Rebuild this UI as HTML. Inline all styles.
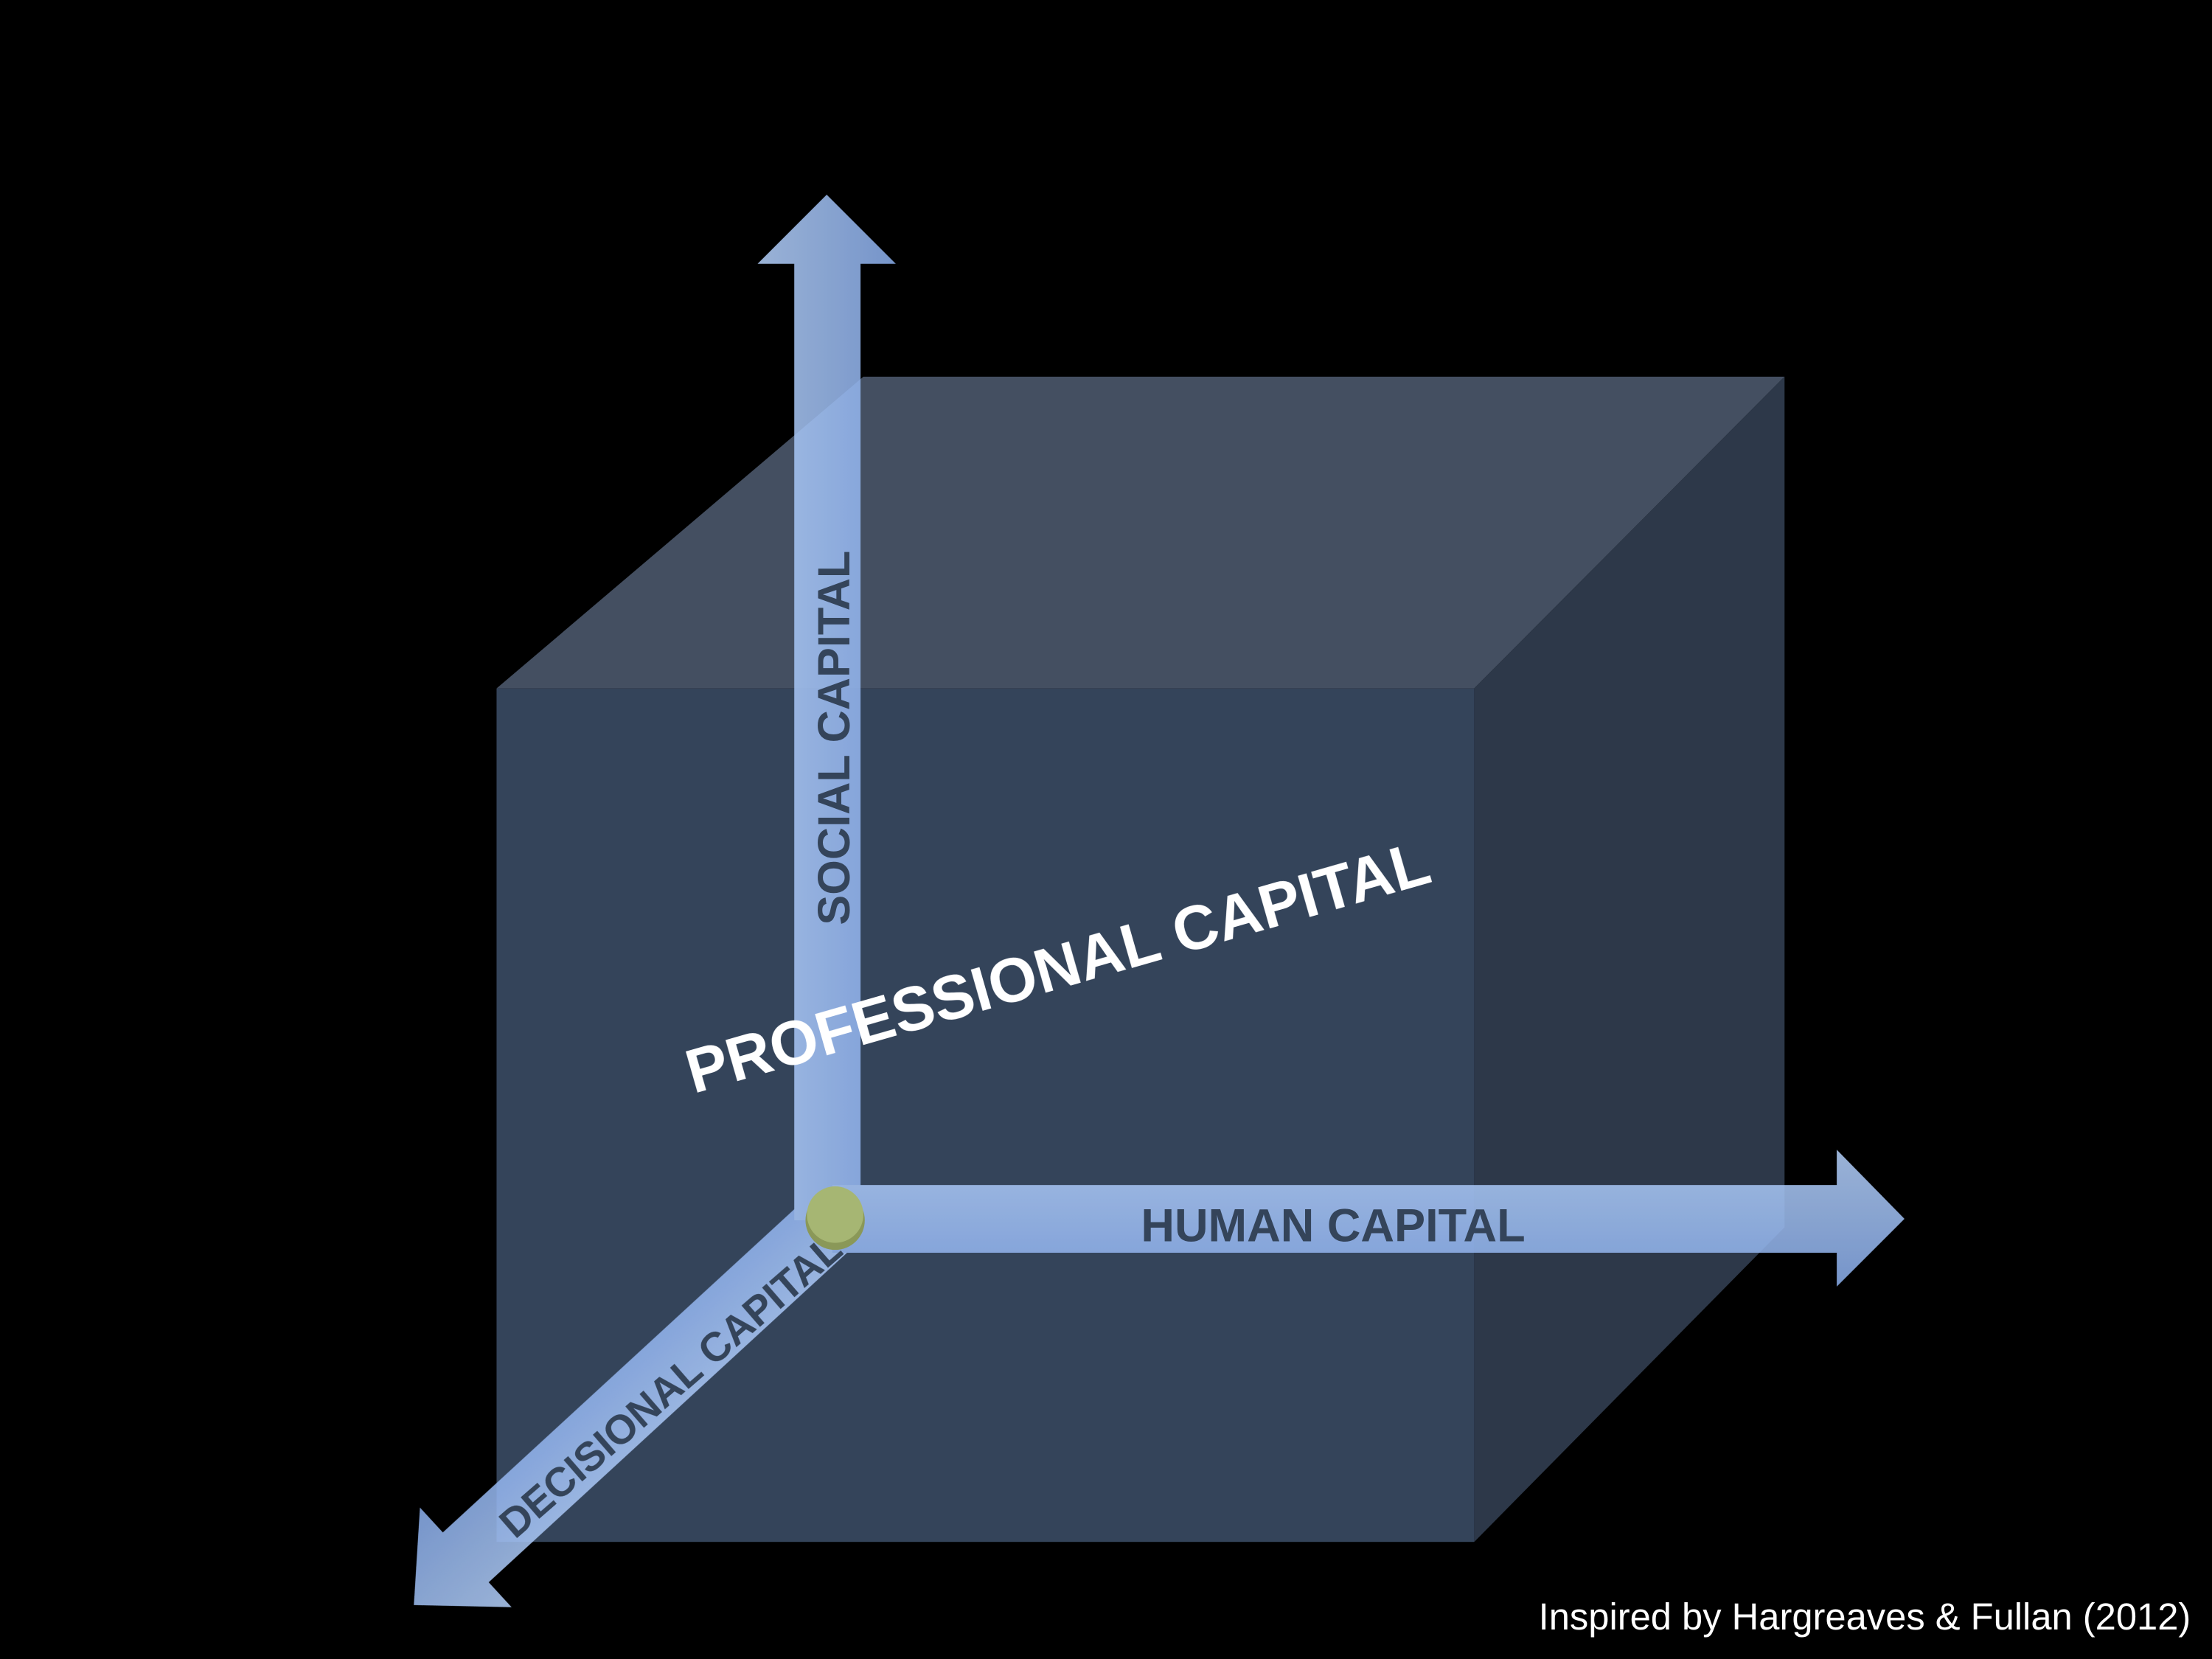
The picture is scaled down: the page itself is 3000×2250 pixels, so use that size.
<!DOCTYPE html>
<html><head><meta charset="utf-8"><style>
html,body{margin:0;padding:0;background:#000;}
svg{display:block;}
text{font-family:"Liberation Sans",sans-serif;font-weight:bold;}
</style></head><body>
<svg width="3000" height="2250" viewBox="0 0 1568 1176" xmlns="http://www.w3.org/2000/svg">
<defs>
<linearGradient id="gv" x1="0" y1="0" x2="1" y2="0"><stop offset="0" stop-color="#b4d0fa"/><stop offset="1" stop-color="#8aaeec"/></linearGradient>
<linearGradient id="gh" x1="0" y1="0" x2="0" y2="1"><stop offset="0" stop-color="#b4d0fa"/><stop offset="1" stop-color="#8aaeec"/></linearGradient>
</defs>
<rect width="1568" height="1176" fill="#000"/>
<g>
<polygon points="352,488 612,267 1265,267 1045,488" fill="#444f61"/>
<polygon points="1045,488 1265,267 1265,870 1045,1093" fill="#2d3849"/>
<rect x="352" y="488" width="693" height="605" fill="#34445a"/>
</g>
<g opacity="0.86">
<g transform="translate(590,865) rotate(137.4)">
<polygon points="0,-24 353,-24 353,-48 403,0 353,48 353,24 0,24" fill="url(#gh)"/>
</g>
<g>
<polygon points="563,865 563,187 537,187 586,138 635,187 610,187 610,865" fill="url(#gv)"/>
</g>
<g>
<polygon points="590,840 1302,840 1302,815 1350,864 1302,912 1302,888 590,888" fill="url(#gh)"/>
</g>
</g>
<circle cx="592" cy="865" r="21" fill="#8a9858"/>
<circle cx="592" cy="861" r="20" fill="#a6b673"/>
<text transform="translate(602,523) rotate(-90)" text-anchor="middle" font-size="32" fill="#34445a">SOCIAL CAPITAL</text>
<text x="945" y="880" text-anchor="middle" font-size="33" fill="#34445a">HUMAN CAPITAL</text>
<text transform="translate(482,990) rotate(-41)" text-anchor="middle" font-size="29" fill="#34445a">DECISIONAL CAPITAL</text>
<text transform="translate(754,700) rotate(-16)" text-anchor="middle" font-size="44" fill="#ffffff">PROFESSIONAL CAPITAL</text>
<text x="1553" y="1155" text-anchor="end" font-size="26.5" style="font-weight:normal" fill="#ffffff">Inspired by Hargreaves &amp; Fullan (2012)</text>
</svg>
</body></html>
